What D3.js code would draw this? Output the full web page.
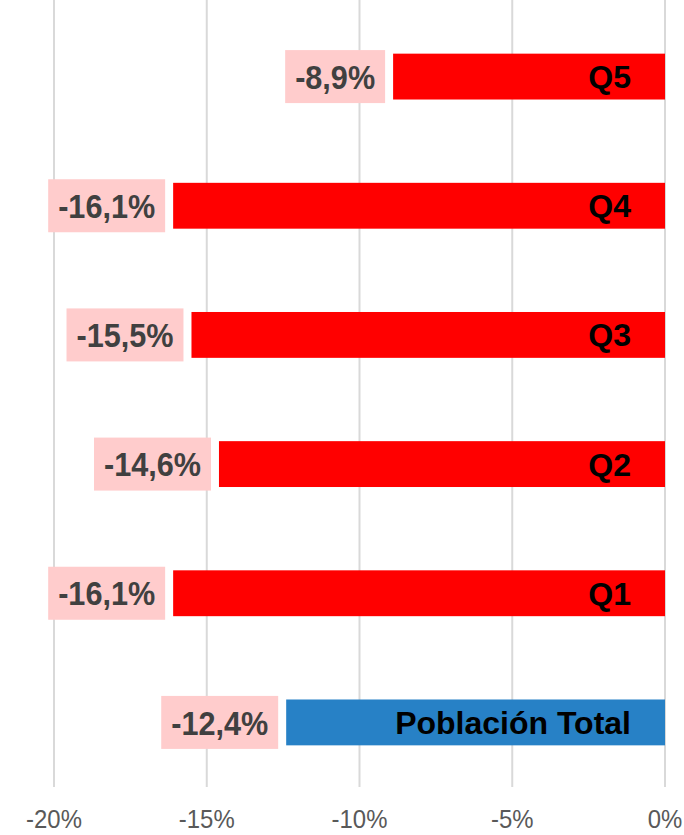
<!DOCTYPE html>
<html>
<head>
<meta charset="utf-8">
<script src="https://cdn.jsdelivr.net/npm/d3@7"></script>
<style>
  html, body { margin: 0; padding: 0; background: #fff; }
  svg { display: block; }
</style>
</head>
<body>
<div id="chart"></div>
<script>
// data
const categories = ["Q5", "Q4", "Q3", "Q2", "Q1", "Población Total"];
const values = [-0.089, -0.161, -0.155, -0.146, -0.161, -0.124];
const barColors = ["#ff0000", "#ff0000", "#ff0000", "#ff0000", "#ff0000", "#2781c6"];
const tickValues = [-0.20, -0.15, -0.10, -0.05, 0];

const width = 684, height = 835;
const fmt = v => d3.format(".1%")(v).replace(".", ",").replace("−", "-");

const svg = d3.select("#chart").append("svg")
  .attr("width", width)
  .attr("height", height);

const x = d3.scaleLinear().domain([-0.20, 0]).range([54, 665]);
const y = d3.scaleBand().domain(categories).range([12, 787])
  .paddingInner(0.645).paddingOuter(0.3225);

// squeeze glyphs a bit so the text looks narrow like the original font
function narrow(sel, k) {
  sel.each(function() {
    const w = this.getComputedTextLength();
    d3.select(this).attr("textLength", w * k).attr("lengthAdjust", "spacingAndGlyphs");
  });
}

// vertical gridlines
svg.append("g").selectAll("line")
  .data(tickValues).enter().append("line")
  .attr("x1", d => x(d)).attr("x2", d => x(d))
  .attr("y1", 0).attr("y2", 787)
  .attr("stroke", "#d9d9d9")
  .attr("stroke-width", 2);

// tick labels
svg.append("g").selectAll("text")
  .data(tickValues).enter().append("text")
  .attr("x", d => x(d))
  .attr("y", 828)
  .attr("text-anchor", "middle")
  .style("font-family", "'Liberation Sans', Arial, sans-serif")
  .style("font-size", "26px")
  .style("fill", "#595959")
  .text(d => d3.format(".0%")(d).replace("−", "-"))
  .call(narrow, 0.92);

// bars
svg.append("g").selectAll("rect")
  .data(values).enter().append("rect")
  .attr("x", d => x(d))
  .attr("y", (d, i) => y(categories[i]))
  .attr("width", d => x(0) - x(d))
  .attr("height", y.bandwidth())
  .attr("fill", (d, i) => barColors[i]);

// category names inside the bars
svg.append("g").selectAll("text")
  .data(categories).enter().append("text")
  .attr("x", 631)
  .attr("y", d => y(d) + y.bandwidth() / 2)
  .attr("dy", "0.36em")
  .attr("text-anchor", "end")
  .style("font-family", "'Liberation Sans', Arial, sans-serif")
  .style("font-weight", "bold")
  .style("font-size", "32px")
  .style("fill", "#000")
  .text(d => d);

// value labels in pink boxes
const labels = svg.append("g").selectAll("g")
  .data(values).enter().append("g");

const labelText = labels.append("text")
  .attr("y", (d, i) => y(categories[i]) + y.bandwidth() / 2)
  .attr("dy", "0.36em")
  .attr("text-anchor", "middle")
  .style("font-family", "'Liberation Sans', Arial, sans-serif")
  .style("font-weight", "bold")
  .style("font-size", "34px")
  .style("fill", "#404040")
  .text(d => fmt(d));

labelText.each(function(d, i) {
  const w0 = this.getComputedTextLength() * 0.9;
  d3.select(this).attr("textLength", w0).attr("lengthAdjust", "spacingAndGlyphs");
  const w = w0 + 20;
  const right = x(d) - 8;
  const cy = y(categories[i]) + y.bandwidth() / 2;
  d3.select(this).attr("x", right - w / 2);
  d3.select(this.parentNode).insert("rect", "text")
    .attr("x", right - w)
    .attr("y", cy - 26.5)
    .attr("width", w)
    .attr("height", 53)
    .attr("fill", "#ffcccc");
});
</script>
</body>
</html>
